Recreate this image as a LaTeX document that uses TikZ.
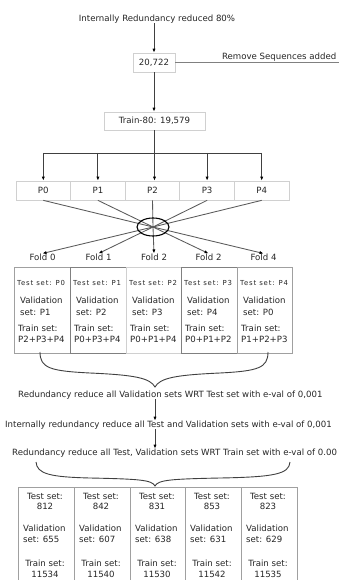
\documentclass[tikz,border=0pt]{standalone}
\usepackage{fontspec}
\setmainfont{DejaVu Sans}
\newfontfamily\tsfont[LetterSpace=12]{DejaVu Sans}
\usetikzlibrary{arrows.meta,shapes.geometric}
\definecolor{lgray}{HTML}{D0D0D0}
\definecolor{mgray}{HTML}{A0A0A0}
\definecolor{dgray}{HTML}{404040}
\definecolor{fgray}{HTML}{5A5A5A}
\begin{document}
\begin{tikzpicture}[x=1pt,y=-1pt,
  txt/.style={font=\fontsize{8.6}{11.5}\selectfont, inner sep=0pt, text=black!85},
  tstxt/.style={font=\tsfont\fontsize{6.9}{8}\selectfont, inner sep=0pt, text=black!85},
  lbox/.style={draw=lgray, line width=0.7pt, fill=white},
  conn/.style={draw=dgray, line width=0.9pt},
  arr/.style={conn, -{Latex[length=4pt,width=3.2pt,color=black]}},
  fan/.style={draw=fgray, line width=0.85pt},
  fanarr/.style={fan, -{Latex[length=4pt,width=3.2pt,color=black]}},
  brace/.style={draw=dgray, line width=0.9pt},
]
\useasboundingbox[fill=white] (0,0) rectangle (338,580);

% top part
\node[txt] (title) at (157,19) {Internally Redundancy reduced 80\%};
\node[txt,lbox,minimum width=42pt,minimum height=19pt] (n1) at (154,62.5) {20,722};
\draw[arr] (title.south -| n1.north) -- (n1.north);
\coordinate (rmend) at (345,62.5);
\draw[draw=gray, line width=1.4pt] (n1.east) -- (rmend);
\node[txt, anchor=base east] (rm) at (336.5,60) {Remove Sequences added};

\node[txt,lbox,minimum width=101pt,minimum height=18pt] (train) at (154.5,121) {Train-80: 19,579};
\draw[arr] (n1.south) -- (n1.south |- train.north);

% partitions
\foreach \i in {0,...,4}
  \node[txt,lbox,minimum width=54.6pt,minimum height=19pt] (P\i) at ({43.3+54.6*\i},190.5) {P\i};
\coordinate (busL) at (43.3,153);
\coordinate (busR) at (261.7,153);
\draw[conn] (train.south) -- (train.south |- busL);
\draw[conn] (busL) -- (busR);
\foreach \i in {0,1,3,4}
  \draw[arr] (P\i.north |- busL) -- (P\i.north);
\draw[arr] (train.south |- busL) -- (train.south |- P2.north);

% folds
\foreach \i/\xx/\lab in {0/42.5/Fold 0, 1/98.5/Fold 1, 2/154/Fold 2, 3/208.5/Fold 2, 4/263.5/Fold 4}
  \node[txt] (F\i) at (\xx,257) {\lab};
\coordinate (hub) at (153,227);
\foreach \i/\j in {0/4,1/3,2/2,3/1,4/0}{
  \draw[fan] (P\i.south) -- (hub);
  \draw[fanarr] (hub) -- (F\j.north);
}
\node[draw=black, line width=1.1pt, ellipse, minimum width=32pt, minimum height=18pt, inner sep=0pt] (ell) at (hub) {};

% fold boxes
\foreach \i/\xx/\bw/\col/\ts/\vs/\trs in {0/14/56/mgray/P0/P1/P2+P3+P4, 1/70/56/gray/P1/P2/P0+P3+P4, 2/126/55/lgray/P2/P3/P0+P1+P4, 3/181/56/gray/P3/P4/P0+P1+P2, 4/237/55/mgray/P4/P0/P1+P2+P3}{
  \node[draw=\col, fill=white, line width=0.7pt, minimum width=\bw pt, minimum height=86pt, anchor=north west, inner sep=0pt] (FB\i) at (\xx,267) {};
  \node[tstxt, anchor=west] (ts\i) at ({\xx+3},283) {Test set: \ts};
  \node[txt, anchor=west, align=left] (vs\i) at ({\xx+6},306.5) {Validation\\set: \vs};
  \node[txt, anchor=west, align=left] (tr\i) at ({\xx+4},334) {Train set:\\\trs};
}

% brace 1
\draw[brace] (40,352) .. controls (40,368) and (50,371) .. (90,373)
  .. controls (135,375) and (150,378) .. (155,387)
  .. controls (160,378) and (175,375) .. (220,373)
  .. controls (258,371) and (268,368) .. (268,352);

% text steps
\node[txt, anchor=west] (t1) at (18,395) {Redundancy reduce all Validation sets WRT Test set with e-val of 0,001};
\node[txt, anchor=west] (t2) at (5,425) {Internally redundancy reduce all Test and Validation sets with e-val of 0,001};
\node[txt, anchor=west] (t3) at (12,453) {Redundancy reduce all Test, Validation sets WRT Train set with e-val of 0.00};
\coordinate (ax) at (155,0);
\draw[arr] (t1.south -| ax) -- (t2.north -| ax);
\draw[arr] (t2.south -| ax) -- (t3.north -| ax);

% brace 2
\draw[brace] (36,462) .. controls (37,474) and (50,477) .. (90,478)
  .. controls (140,479) and (152,480) .. (155,486)
  .. controls (158,480) and (170,479) .. (220,478)
  .. controls (275,477) and (289,474) .. (290,462);

% result boxes
\foreach \i/\xx/\bw/\a/\b/\cc in {0/18/56/812/655/11534, 1/74/56/842/607/11540, 2/130/55/831/638/11530, 3/185/56/853/631/11542, 4/241/56/823/629/11535}{
  \node[draw=mgray, line width=0.7pt, minimum width=\bw pt, minimum height=110pt, anchor=north west, inner sep=0pt] (B\i) at (\xx,487) {};
  \node[txt, font=\fontsize{8.6}{10}\selectfont, align=center] (bt\i) at ({\xx+27},501) {Test set:\\\a};
  \node[txt, align=left, anchor=west] (bv\i) at ({\xx+5},534) {Validation\\set: \b};
  \node[txt, align=center] (br\i) at ({\xx+27},569) {Train set:\\\cc};
}
\end{tikzpicture}
\end{document}
